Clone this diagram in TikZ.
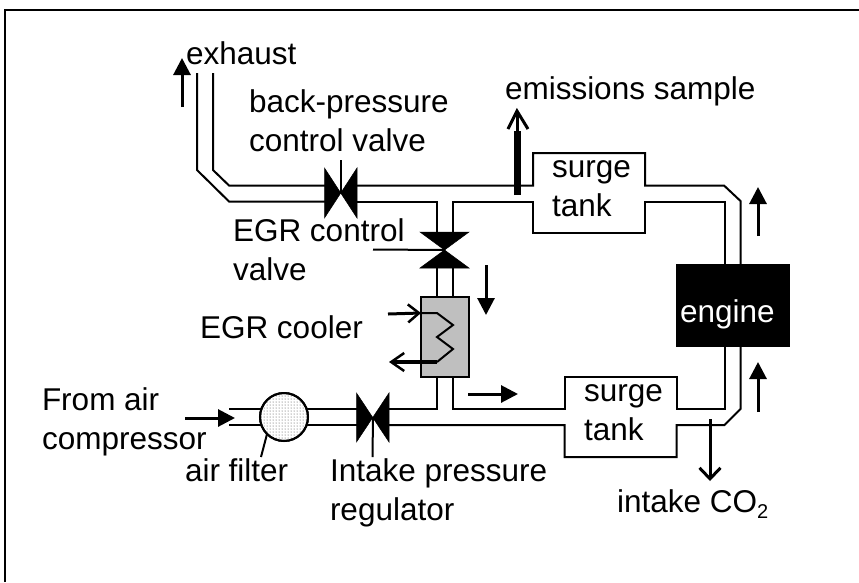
\documentclass[tikz,border=0pt]{standalone}
\usepackage{fontspec}
\setmainfont{Liberation Sans}
\usetikzlibrary{arrows.meta,patterns}
\tikzset{
  txt/.style={anchor=north west,inner sep=0pt,outer sep=0pt,align=left,font=\fontsize{31.5}{38.5}\selectfont},
  pipe/.style={line width=2pt,line join=miter},
  thin leader/.style={line width=2pt},
  solid arrow/.style={line width=3pt,-{Triangle[length=17pt,width=17pt]}},
  open arrow/.style={line width=3pt,-{Straight Barb[length=11pt,width=21pt,line width=3pt]}},
  tank/.style={inner sep=0pt,outer sep=0pt,minimum width=112pt,minimum height=80pt},
  valve/.style={fill=black,draw=black,line width=.5pt}
}
\newcommand{\twoline}[2]{\strut #1\\\strut #2}
\begin{document}
\begin{tikzpicture}[x=1pt,y=-1pt]
\useasboundingbox (0,0) rectangle (859,582);
\coordinate (fA) at (5,582);
\coordinate (fB) at (5,10);
\coordinate (fC) at (859,10);
\draw[line width=2pt] (fA) -- (fB) -- (fC);
% main components
\node[tank] (tankA) at (589,193) {};
\node[tank] (tankB) at (620.5,417) {};
\node[draw,fill=black,line width=1pt,inner sep=0pt,outer sep=0pt,minimum width=113pt,minimum height=82pt] (engine) at (732.5,305) {};
\node[draw,fill=black!25,line width=2pt,inner sep=0pt,outer sep=0pt,minimum width=48pt,minimum height=80pt] (cooler) at (445,337) {};
% reference points
\coordinate (exL) at (197,73);
\coordinate (exLb) at (197,170);
\coordinate (exLc) at (229,201.5);
\coordinate (exR) at (213,73);
\coordinate (exRb) at (213,170);
\coordinate (exRc) at (229,185.5);
\coordinate (v1) at (341,193);
\coordinate (v1l) at (330,193);
\coordinate (v1r) at (350,193);
\coordinate (v2) at (445,250);
\coordinate (v2t) at (445,233);
\coordinate (v2b) at (445,267);
\coordinate (v3) at (373,417);
\coordinate (v3l) at (362,417);
\coordinate (v3r) at (384,417);
\coordinate (branchL) at (437,201.5);
\coordinate (branchR) at (453,201.5);
\coordinate (airU) at (229,409);
\coordinate (airL) at (229,425);
\coordinate (jct) at (437,409);
\coordinate (jctR) at (453,409);
% exhaust line, up to the back-pressure valve
\draw[pipe] (exR) -- (exRb) -- (exRc) -- (v1l |- exRc);
\draw[pipe] (exL) -- (exLb) -- (exLc) -- (v1l |- exLc);
% from the valve to the EGR branch and the upper surge tank
\draw[pipe] (v1r |- branchL) -- (branchL) -- (v2t -| branchL);
\draw[pipe] (v2t -| branchR) -- (branchR) -- (tankA.west |- branchR) -- (tankA.south west) -- (tankA.south east) -- (tankA.east |- branchR) -- (724.5,201.5) -- (engine.north -| 724.5,0);
\draw[pipe] (v1r |- exRc) -- (tankA.west |- exRc) -- (tankA.north west) -- (tankA.north east) -- (tankA.east |- exRc) -- (724,185.5) -- (740.5,201) -- (engine.north -| 740.5,0);
% EGR valve to cooler
\draw[pipe] (v2b -| branchL) -- (cooler.north -| branchL);
\draw[pipe] (v2b -| branchR) -- (cooler.north -| branchR);
% engine to lower surge tank
\draw[pipe] (engine.south -| 724.5,0) -- (724.5,409) -- (tankB.east |- jct) -- (tankB.north east) -- (tankB.north west) -- (tankB.west |- jctR) -- (jctR) -- (cooler.south -| jctR);
\draw[pipe] (engine.south -| 740.5,0) -- (740.5,409) -- (724.5,425) -- (tankB.east |- airL) -- (tankB.south east) -- (tankB.south west) -- (tankB.west |- airL) -- (v3r |- airL);
% cooler to intake pressure regulator
\draw[pipe] (cooler.south -| jct) -- (jct) -- (v3r |- jct);
% air inlet through the filter
\draw[pipe] (airU) -- (v3l |- airU);
\draw[pipe] (airL) -- (v3l |- airL);
% filter
\node[draw,circle,fill=white,line width=2pt,inner sep=0pt,outer sep=0pt,minimum size=48pt,
  postaction={pattern=dots,pattern color=black!75}] (filter) at (284,417) {};
\draw[line width=2pt] (filter) circle (24pt);
% valves
\path[valve] (324.5,168) -- (357,218) -- (357,168) -- (324.5,218) -- cycle;
\path[valve] (420,232) -- (469,268) -- (420,268) -- (469,232) -- cycle;
\path[valve] (356.5,393) -- (389,442) -- (389,393) -- (356.5,442) -- cycle;
\coordinate (s1) at (341,160);
\coordinate (s2) at (373,249.5);
\coordinate (s3) at (372.5,457);
\draw[thin leader] (s1) -- (v1);
\draw[thin leader] (s2) -- (v2);
\draw[thin leader] (s3) -- (v3);
% coil
\coordinate (c0) at (421,313);
\coordinate (c1) at (437,313);
\coordinate (c2) at (453,325);
\coordinate (c3) at (437,337);
\coordinate (c4) at (453,349);
\coordinate (c5) at (437,362);
\draw[pipe] (c0) -- (c1) -- (c2) -- (c3) -- (c4) -- (c5);
\coordinate (ci) at (388,314);
\coordinate (co) at (389,362);
\draw[line width=3pt,-{Straight Barb[length=11pt,width=18pt,line width=2.5pt]}] (ci) -- (c0);
\draw[line width=3.5pt,-{Straight Barb[length=13pt,width=18pt,line width=2.5pt]}] (c5) -- (co);
% flow arrows
\coordinate (a1s) at (182,107); \coordinate (a1e) at (182,58);
\coordinate (a2s) at (486,265); \coordinate (a2e) at (486,315);
\coordinate (a3s) at (468,394); \coordinate (a3e) at (518,394);
\coordinate (a4s) at (758,236); \coordinate (a4e) at (758,187);
\coordinate (a5s) at (758,412); \coordinate (a5e) at (758,362);
\coordinate (a6s) at (185,418); \coordinate (a6e) at (235,418);
\coordinate (a7s) at (710,419); \coordinate (a7e) at (710,481);
\draw[solid arrow] (a1s) -- (a1e);
\draw[solid arrow] (a2s) -- (a2e);
\draw[solid arrow] (a3s) -- (a3e);
\draw[solid arrow] (a4s) -- (a4e);
\draw[solid arrow] (a5s) -- (a5e);
\draw[solid arrow] (a6s) -- (a6e);
\draw[open arrow] (a7s) -- (a7e);
% emissions probe
\coordinate (e0) at (517,195);
\coordinate (e1) at (517,131);
\coordinate (e2) at (517,111);
\coordinate (e3) at (508,129);
\coordinate (e4) at (528,129);
\draw[line width=7pt] (e0) -- (e1);
\draw[line width=3pt,line join=miter] (e3) -- (e2) -- (e4);
\draw[line width=3pt] (e2) -- (e1);
% filter leader
\coordinate (fl) at (261,457);
\draw[thin leader] (fl) -- (filter.-135);
% labels
\node[txt] (lExhaust) at (186,38) {\strut exhaust};
\node[txt] (lBack) at (249,86) {\twoline{back-pressure}{control valve}};
\node[txt] (lEmis) at (505,73) {\strut emissions sample};
\node[txt] (lEGRv) at (233,215) {\twoline{EGR control}{valve}};
\node[txt] (lCool) at (200,312) {\strut EGR cooler};
\node[txt] (lAir) at (42,384) {\twoline{From air}{compressor}};
\node[txt] (lFilt) at (185,455) {\strut air filter};
\node[txt] (lInt) at (330,455) {\twoline{Intake pressure}{regulator}};
\node[txt] (lTankA) at (552,151) {\twoline{surge}{tank}};
\node[txt] (lTankB) at (584,375) {\twoline{surge}{tank}};
\node[txt,text=white] (lEng) at (680,296) {\strut engine};
\node[txt] (lCO) at (617,486) {\strut intake CO\raisebox{-6pt}{\fontsize{20}{20}\selectfont 2}};
\end{tikzpicture}
\end{document}
